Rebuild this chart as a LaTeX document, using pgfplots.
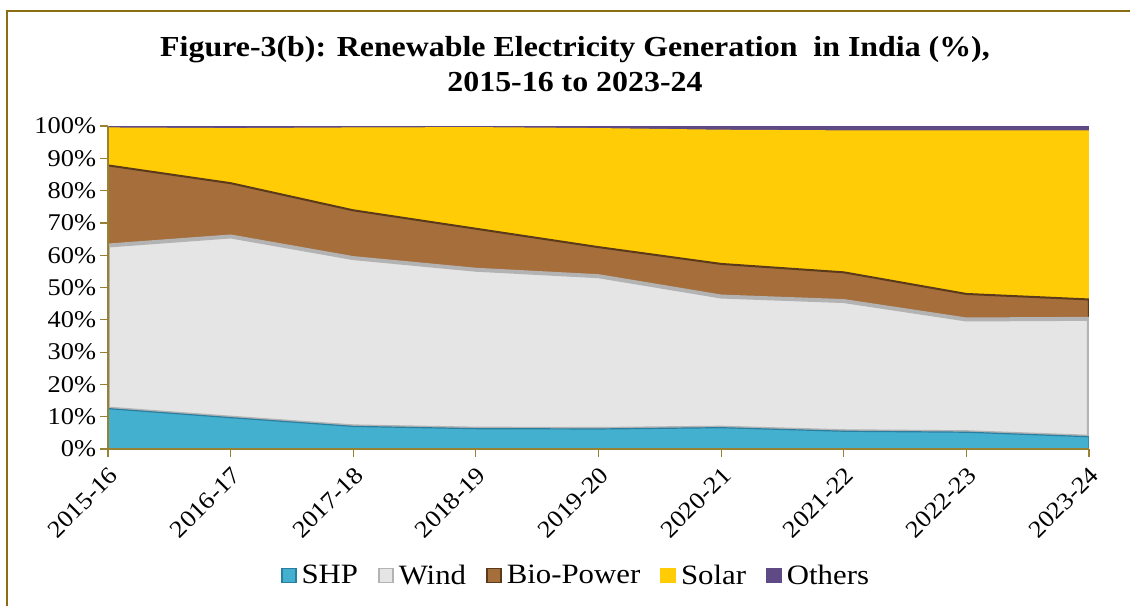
\documentclass[border=0pt]{standalone}
\usepackage{fontspec}
\setmainfont{Liberation Serif}[FakeStretch=1.1]
\usepackage{pgfplots}
\pgfplotsset{compat=1.18}
\usepackage{pgfplotstable}

\definecolor{shp}{HTML}{44B0CF}
\definecolor{shpedge}{HTML}{2A7FA0}
\definecolor{wind}{HTML}{E5E5E5}
\definecolor{windedge}{HTML}{B3B3B3}
\definecolor{bio}{HTML}{A56E3B}
\definecolor{bioedge}{HTML}{5A3A1A}
\definecolor{solar}{HTML}{FFCC05}
\definecolor{others}{HTML}{5F4A85}
\definecolor{framec}{HTML}{8C6E12}
\definecolor{axisc}{HTML}{978132}

% Share of renewable electricity generation (%), by source
\pgfplotstableread{
x SHP  Wind Bio  Solar Others
0 12.5 50.5 24.8 11.6  0.6
1 9.7  56.1 16.5 16.9  0.8
2 7.0  52.1 14.8 25.5  0.6
3 6.3  49.2 12.7 31.3  0.5
4 6.2  47.3 9.0  36.7  0.8
5 6.6  40.6 10.1 41.4  1.3
6 5.5  40.3 8.9  43.8  1.5
7 5.2  34.9 7.9  50.5  1.5
8 3.8  36.5 6.0  52.2  1.5
}\gen

\begin{document}
\begin{tikzpicture}
\useasboundingbox (0,0) rectangle (565pt,303pt);
% outer frame (left and top edges)
\draw[framec, line width=1pt] (3.25pt,0) -- (3.25pt,297.25pt) -- (565pt,297.25pt);
% title
\node[anchor=base, font=\bfseries\fontsize{14.5}{18}\selectfont] at (287.5pt,274.5pt)
  {Figure-3(b): Renewable Electricity Generation\ \ in India (\%),};
\node[anchor=base, font=\bfseries\fontsize{14.5}{18}\selectfont] at (287.5pt,257pt)
  {2015-16 to 2023-24};
\begin{axis}[
  at={(54pt,78.5pt)}, anchor=south west,
  scale only axis, width=490.5pt, height=161.5pt,
  xmin=0, xmax=8, ymin=0, ymax=100,
  stack plots=y, axis on top,
  axis x line*=bottom, axis y line*=left,
  axis line style={axisc, line width=0.8pt, -},
  xtick={0,...,8},
  xticklabels={2015-16,2016-17,2017-18,2018-19,2019-20,2020-21,2021-22,2022-23,2023-24},
  ytick={0,10,...,100},
  yticklabels={0\%,10\%,20\%,30\%,40\%,50\%,60\%,70\%,80\%,90\%,100\%},
  tick style={axisc, line width=0.6pt},
  tick align=outside, major tick length=3.8pt,
  xticklabel style={rotate=45, anchor=north east, inner sep=3pt, font=\fontsize{12}{14}\selectfont},
  yticklabel style={font=\fontsize{12}{14}\selectfont, inner sep=2pt},
  legend columns=5,
  legend style={at={(0.478,-0.393)}, anchor=center, draw=none, fill=none,
    font=\fontsize{14}{16}\selectfont,
    /tikz/every even column/.append style={column sep=8pt},
    /tikz/every odd column/.append style={column sep=0.5pt}},
  legend image code/.code={\draw[#1, line width=0.9pt] (0pt,-3.3pt) rectangle (7pt,3.7pt);},
]
\addplot[fill=shp, draw=shpedge, line width=0.6pt] table[x=x,y=SHP]{\gen} \closedcycle;
\addlegendentry{SHP}
\addplot[fill=wind, draw=windedge, line width=2pt] table[x=x,y=Wind]{\gen} \closedcycle;
\addlegendentry{Wind}
\addplot[fill=bio, draw=bioedge, line width=1pt] table[x=x,y=Bio]{\gen} \closedcycle;
\addlegendentry{Bio-Power}
\addplot[fill=solar, draw=solar, line width=0.5pt] table[x=x,y=Solar]{\gen} \closedcycle;
\addlegendentry{Solar}
\addplot[fill=others, draw=others, line width=1.2pt] table[x=x,y=Others]{\gen} \closedcycle;
\addlegendentry{Others}
\end{axis}
\end{tikzpicture}
\end{document}
